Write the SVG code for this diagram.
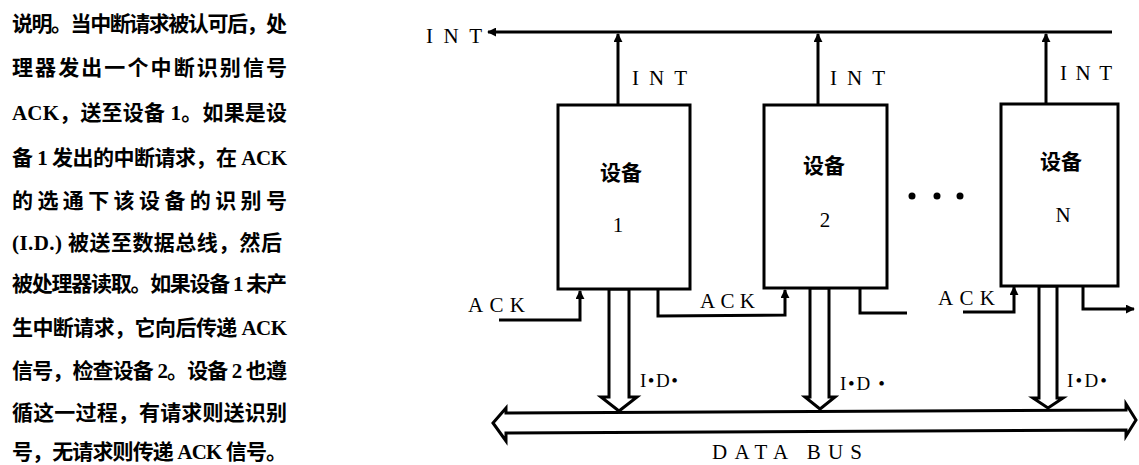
<svg xmlns="http://www.w3.org/2000/svg" width="1139" height="465" viewBox="0 0 1139 465">
<style>
.txt{font-family:"Liberation Serif","Noto Sans CJK SC",serif;font-size:21px;font-weight:bold;fill:#000}
.lbl{font-family:"Liberation Serif",serif;font-size:21px;fill:#000}
.id{font-family:"Liberation Serif",serif;font-size:19px;fill:#000}
.cn{font-family:"Noto Sans CJK SC",sans-serif;font-size:21px;font-weight:bold;fill:#000}
.box{fill:#fff;stroke:#000;stroke-width:3}
.ln{fill:none;stroke:#000;stroke-width:3}
.hollow{fill:#fff;stroke:#000;stroke-width:3;stroke-linejoin:miter}
</style>
<defs>
<marker id="arr" viewBox="0 0 10 10" refX="9" refY="5" markerWidth="9" markerHeight="9" markerUnits="userSpaceOnUse" orient="auto">
<path d="M0,0 L10,5 L0,10 z" fill="#000"/>
</marker>
</defs>
<rect width="1139" height="465" fill="#fff"/>
<g id="description">
<text class="txt" x="12" y="31" textLength="275" lengthAdjust="spacing">说明。当中断请求被认可后，处</text>
<text class="txt" x="12" y="75" textLength="275" lengthAdjust="spacing">理器发出一个中断识别信号</text>
<text class="txt" x="12" y="120" textLength="275" lengthAdjust="spacing">ACK，送至设备 1。如果是设</text>
<text class="txt" x="12" y="165" textLength="275" lengthAdjust="spacing">备 1 发出的中断请求，在 ACK</text>
<text class="txt" x="12" y="208" textLength="275" lengthAdjust="spacing">的选通下该设备的识别号</text>
<text class="txt" x="12" y="250" textLength="270" lengthAdjust="spacing">(I.D.) 被送至数据总线，然后</text>
<text class="txt" x="12" y="291" textLength="275" lengthAdjust="spacing">被处理器读取。如果设备 1 未产</text>
<text class="txt" x="12" y="335" textLength="275" lengthAdjust="spacing">生中断请求，它向后传递 ACK</text>
<text class="txt" x="12" y="378" textLength="275" lengthAdjust="spacing">信号，检查设备 2。设备 2 也遵</text>
<text class="txt" x="12" y="420" textLength="275" lengthAdjust="spacing">循这一过程，有请求则送识别</text>
<text class="txt" x="12" y="459" textLength="275" lengthAdjust="spacing">号，无请求则传递 ACK 信号。</text>
</g>
<g id="connectors">
<line class="ln" x1="1112" y1="32" x2="488" y2="32" marker-end="url(#arr)"/>
<text class="lbl" x="426" y="43" textLength="56" lengthAdjust="spacing">INT</text>
<line class="ln" x1="618" y1="105" x2="618" y2="34" marker-end="url(#arr)"/>
<text class="lbl" x="632" y="85" textLength="55" lengthAdjust="spacing">INT</text>
<line class="ln" x1="818" y1="105" x2="818" y2="34" marker-end="url(#arr)"/>
<text class="lbl" x="830" y="85" textLength="55" lengthAdjust="spacing">INT</text>
<line class="ln" x1="1046" y1="104" x2="1046" y2="34" marker-end="url(#arr)"/>
<text class="lbl" x="1060" y="80" textLength="52" lengthAdjust="spacing">INT</text>
<polyline class="ln" points="499,320 580,320 580,291" marker-end="url(#arr)"/>
<text class="lbl" x="468" y="312" textLength="57" lengthAdjust="spacing">ACK</text>
<polyline class="ln" points="658,289 658,316 785,315 785,290" marker-end="url(#arr)"/>
<text class="lbl" x="700" y="308" textLength="55" lengthAdjust="spacing">ACK</text>
<polyline class="ln" points="860,288 860,313 907,313"/>
<polyline class="ln" points="963,312 1014,312 1014,287" marker-end="url(#arr)"/>
<text class="lbl" x="938" y="305" textLength="57" lengthAdjust="spacing">ACK</text>
<polyline class="ln" points="1083,286 1083,309 1134,309" marker-end="url(#arr)"/>
<polygon class="hollow" points="493,423 506,408 506,413 1126,410 1126,404 1136,420 1126,436 1126,430 506,433 506,441"/>
<polygon class="hollow" points="609,289 609,397 601,397 619,411 637,397 629,397 629,289"/>
<text class="id" x="640" y="387" textLength="38" lengthAdjust="spacing">I•D•</text>
<polygon class="hollow" points="810,288 810,397 805,397 820,409 835,397 829,397 829,288"/>
<text class="id" x="840" y="390" textLength="45" lengthAdjust="spacing">I•D •</text>
<polygon class="hollow" points="1039,286 1039,398 1033,398 1048,408 1063,398 1057,398 1057,286"/>
<text class="id" x="1067" y="387" textLength="40" lengthAdjust="spacing">I•D•</text>
<text class="lbl" x="712" y="459" font-size="20" textLength="150" lengthAdjust="spacing">DATA BUS</text>
</g>
<g id="device1">
<rect class="box" x="558" y="105" width="132" height="184"/>
<text class="cn" x="621" y="180" text-anchor="middle">设备</text>
<text class="lbl" x="618" y="232" text-anchor="middle">1</text>
</g>
<g id="device2">
<rect class="box" x="764" y="105" width="123" height="183"/>
<text class="cn" x="824" y="173" text-anchor="middle">设备</text>
<text class="lbl" x="825" y="227" text-anchor="middle">2</text>
</g>
<g id="deviceN">
<rect class="box" x="1001" y="104" width="117" height="182"/>
<text class="cn" x="1061" y="169" text-anchor="middle">设备</text>
<text class="lbl" x="1063" y="222" text-anchor="middle">N</text>
</g>
<g id="ellipsis">
<circle cx="912" cy="196" r="3.5"/>
<circle cx="937" cy="196" r="3.5"/>
<circle cx="960" cy="196" r="3.5"/>
</g>
</svg>
